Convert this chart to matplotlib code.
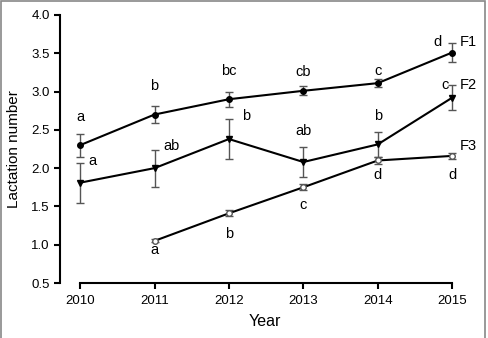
import matplotlib.pyplot as plt
from matplotlib.patches import Rectangle

plt.rcParams['font.family'] = ['Liberation Sans', 'DejaVu Sans']

years = [2010, 2011, 2012, 2013, 2014, 2015]

# F1: filled circles
f1 = [2.30, 2.70, 2.90, 3.01, 3.11, 3.51]
f1_err = [0.15, 0.11, 0.10, 0.06, 0.05, 0.13]
f1_let = ['a', 'b', 'bc', 'cb', 'c', 'd']

# F2: filled triangles
f2 = [1.81, 2.00, 2.38, 2.08, 2.31, 2.92]
f2_err = [0.26, 0.24, 0.26, 0.19, 0.16, 0.16]
f2_let = ['a', 'ab', 'b', 'ab', 'b', 'c']

# F3: open circles (starts 2011)
f3_years = [2011, 2012, 2013, 2014, 2015]
f3 = [1.05, 1.41, 1.75, 2.10, 2.16]
f3_err = [0.02, 0.04, 0.04, 0.05, 0.04]
f3_let = ['a', 'b', 'c', 'd', 'd']

fig = plt.figure(figsize=(4.88, 3.38), dpi=100)
ax = fig.add_axes([60/488, 1 - 283/338, 410/488, 268/338])

ekw = dict(ecolor='#555555', elinewidth=1, capsize=3, capthick=1)
ax.errorbar(years, f1, yerr=f1_err, color='black', marker='o', ms=4, lw=1.5,
            mfc='black', mec='black', zorder=3, **ekw)
ax.errorbar(years, f2, yerr=f2_err, color='black', marker='v', ms=5, lw=1.5,
            mfc='black', mec='black', zorder=3, **ekw)
ax.errorbar(f3_years, f3, yerr=f3_err, color='black', marker='o', ms=4, lw=1.5,
            mfc='white', mec='#555555', zorder=3, **ekw)

fs = 10.5
# F1 letters (above)
f1_off = [(0, 0.37), (0, 0.37), (0, 0.37), (0, 0.25), (0, 0.16), (-0.2, 0.14)]
for x, y, t, (dx, dy) in zip(years, f1, f1_let, f1_off):
    ax.text(x + dx, y + dy, t, fontsize=fs, ha='center', va='center')
# F2 letters
f2_off = [(0.17, 0.28), (0.23, 0.29), (0.23, 0.30), (0, 0.41), (0, 0.37), (-0.1, 0.16)]
for x, y, t, (dx, dy) in zip(years, f2, f2_let, f2_off):
    ax.text(x + dx, y + dy, t, fontsize=fs, ha='center', va='center')
# F3 letters (below)
f3_off = [(0, -0.12), (0, -0.27), (0, -0.23), (0, -0.19), (0, -0.25)]
for x, y, t, (dx, dy) in zip(f3_years, f3, f3_let, f3_off):
    ax.text(x + dx, y + dy, t, fontsize=fs, ha='center', va='center')

# series names
ax.text(2015.1, 3.65, 'F1', fontsize=fs, ha='left', va='center')
ax.text(2015.1, 3.08, 'F2', fontsize=fs, ha='left', va='center')
ax.text(2015.1, 2.29, 'F3', fontsize=fs, ha='left', va='center')

ax.set_xlim(2009.73, 2015.24)
ax.set_ylim(0.5, 4.0)
ax.set_xticks(years)
ax.set_yticks([0.5, 1.0, 1.5, 2.0, 2.5, 3.0, 3.5, 4.0])
ax.set_yticklabels(['0.5', '1.0', '1.5', '2.0', '2.5', '3.0', '3.5', '4.0'])
ax.spines['top'].set_visible(False)
ax.spines['right'].set_visible(False)
ax.spines['left'].set_linewidth(1.5)
ax.spines['bottom'].set_linewidth(1.5)
ax.spines['bottom'].set_bounds(2010, 2015)
ax.tick_params(axis='both', labelsize=9.5, width=1.5, length=4, color='black',
               direction='out')
ax.tick_params(axis='x', pad=5)
ax.set_xlabel('Year', fontsize=11.5, labelpad=5)
ax.set_ylabel('Lactation number', fontsize=11, labelpad=7)

fig.patches.append(Rectangle((1/488, -0.05), 484/488, 1.05 - 1.5/338, transform=fig.transFigure,
                             fill=False, edgecolor='#888888', lw=1.2))

fig.savefig('out.png', dpi=100)
